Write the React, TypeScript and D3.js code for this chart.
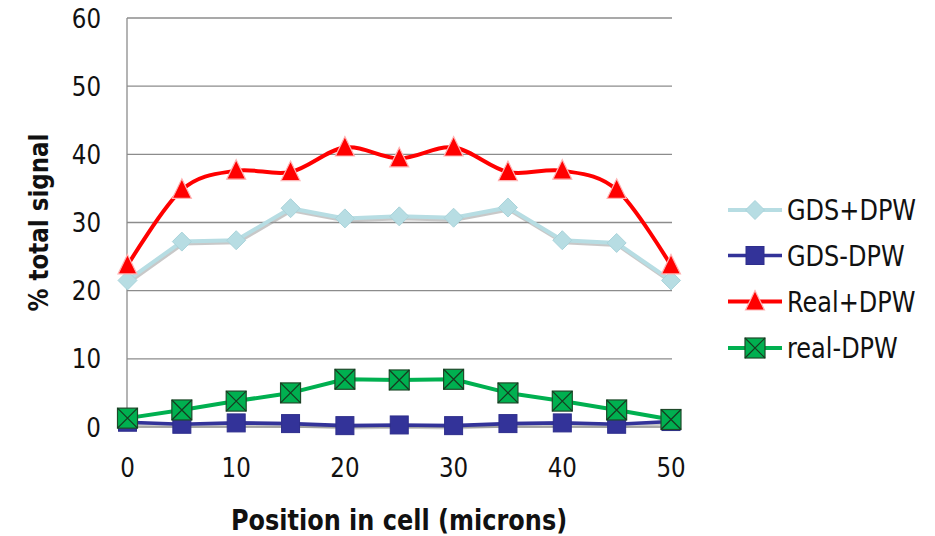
import React, { useEffect } from "react";
import * as d3 from "d3";

const positions = [0, 5, 10, 15, 20, 25, 30, 35, 40, 45, 50];
const gdsPlusDpw = [21.5, 27.2, 27.4, 32.1, 30.6, 30.9, 30.7, 32.2, 27.4, 27.0, 21.5];
const gdsMinusDpw = [0.7, 0.4, 0.6, 0.5, 0.2, 0.3, 0.2, 0.5, 0.6, 0.4, 0.8];
const realPlusDpw = [23.7, 34.8, 37.6, 37.4, 41.0, 39.4, 41.0, 37.4, 37.6, 34.8, 23.7];
const realMinusDpw = [1.3, 2.5, 3.8, 5.0, 7.0, 6.9, 7.0, 5.0, 3.8, 2.5, 1.1];
const seriesNames = ["GDS+DPW", "GDS-DPW", "Real+DPW", "real-DPW"];
const yTicks = [0, 10, 20, 30, 40, 50, 60];
const xTicks = [0, 10, 20, 30, 40, 50];

const W = 935;
const H = 536;
const FONT = "'DejaVu Sans', sans-serif";
const SY = 1.15; // vertical stretch of glyphs to match the reference's taller font
const CAP = 0.729;

type Kind = "diamond" | "square" | "triangle" | "xsquare";

function Label({
  x,
  y,
  size,
  anchor = "start",
  bold = false,
  rotate = 0,
  children,
}: {
  x: number;
  y: number; // baseline
  size: number;
  anchor?: string;
  bold?: boolean;
  rotate?: number;
  children: React.ReactNode;
}) {
  return (
    <g transform={`translate(${x},${y}) rotate(${rotate}) scale(1,${SY})`}>
      <text x={0} y={0} textAnchor={anchor as any} fontSize={size} fontWeight={bold ? "bold" : "normal"} fill="#111">
        {children}
      </text>
    </g>
  );
}

function Marker({ kind, cx, cy }: { kind: Kind; cx: number; cy: number }) {
  if (kind === "diamond") {
    const r = 9.5;
    return (
      <path
        d={`M${cx},${cy - r}L${cx + r},${cy}L${cx},${cy + r}L${cx - r},${cy}Z`}
        fill="#B7DDE3"
        stroke="#A9D3DA"
        strokeWidth={1}
      />
    );
  }
  if (kind === "square") {
    const s = 9;
    return <rect x={cx - s} y={cy - s} width={2 * s} height={2 * s} fill="#333399" stroke="#2E2E8C" strokeWidth={1} />;
  }
  if (kind === "triangle") {
    return (
      <path
        d={`M${cx},${cy - 11}L${cx + 9.5},${cy + 8.5}L${cx - 9.5},${cy + 8.5}Z`}
        fill="#FF0000"
        stroke="#FFB4B4"
        strokeWidth={1.2}
      />
    );
  }
  const s = 10;
  return (
    <g>
      <rect x={cx - s} y={cy - s} width={2 * s} height={2 * s} fill="#00B050" stroke="#1E4A2A" strokeWidth={1.2} />
      <path
        d={`M${cx - s},${cy - s}L${cx + s},${cy + s}M${cx + s},${cy - s}L${cx - s},${cy + s}`}
        stroke="#163A20"
        strokeWidth={1.2}
      />
    </g>
  );
}

export default function App() {
  useEffect(() => {
    document.body.style.margin = "0";
  }, []);

  const x = d3.scaleLinear().domain([0, 50]).range([127.5, 671]);
  const y = d3.scaleLinear().domain([0, 60]).range([427, 18]);

  const series = [
    { name: seriesNames[0], values: gdsPlusDpw, color: "#B7DDE3", kind: "diamond" as Kind, curve: d3.curveLinear, shadow: true, width: 4 },
    { name: seriesNames[1], values: gdsMinusDpw, color: "#333399", kind: "square" as Kind, curve: d3.curveLinear, shadow: true, width: 3.6 },
    { name: seriesNames[2], values: realPlusDpw, color: "#FF0000", kind: "triangle" as Kind, curve: d3.curveCatmullRom.alpha(0), shadow: false, width: 4 },
    { name: seriesNames[3], values: realMinusDpw, color: "#00B050", kind: "xsquare" as Kind, curve: d3.curveLinear, shadow: false, width: 4 },
  ];

  const legendY = [210, 255.5, 301.5, 348];
  const tickSize = 23;
  const half = (fs: number) => (CAP * fs * SY) / 2;

  return (
    <svg width={W} height={H} style={{ display: "block", background: "#fff" }} fontFamily={FONT}>
      {yTicks.map((t) => (
        <line key={"g" + t} x1={127} x2={672} y1={y(t)} y2={y(t)} stroke="#8C8C8C" strokeWidth={1.3} />
      ))}
      <line x1={127} x2={127} y1={y(60)} y2={y(0)} stroke="#8C8C8C" strokeWidth={1.3} />

      {yTicks.map((t) => (
        <Label key={"yt" + t} x={101} y={y(t) + half(tickSize)} size={tickSize} anchor="end">
          {t}
        </Label>
      ))}
      {xTicks.map((t) => (
        <Label key={"xt" + t} x={x(t)} y={477} size={tickSize} anchor="middle">
          {t}
        </Label>
      ))}

      <Label x={399} y={530} size={24} anchor="middle" bold>
        Position in cell (microns)
      </Label>
      <Label x={48} y={222.5} size={23} anchor="middle" bold rotate={-90}>
        % total signal
      </Label>

      {series.map((s) => {
        const pts = s.values.map((v, i) => [x(positions[i]), y(v)] as [number, number]);
        const line = d3.line<[number, number]>().curve(s.curve as any)(pts) || "";
        return (
          <g key={s.name}>
            {s.shadow && (
              <path d={line} transform="translate(1,2)" fill="none" stroke="#9A9A9A" strokeOpacity={0.55} strokeWidth={s.width} />
            )}
            <path d={line} fill="none" stroke={s.color} strokeWidth={s.width} strokeLinejoin="round" />
            {pts.map((p, i) => (
              <Marker key={i} kind={s.kind} cx={p[0]} cy={p[1]} />
            ))}
          </g>
        );
      })}

      {series.map((s, i) => (
        <g key={"lg" + s.name}>
          <line x1={728} x2={782} y1={legendY[i]} y2={legendY[i]} stroke={s.color} strokeWidth={s.width} />
          <Marker kind={s.kind} cx={755} cy={legendY[i]} />
          <Label x={787} y={legendY[i] + half(24)} size={24}>
            {s.name}
          </Label>
        </g>
      ))}
    </svg>
  );
}
